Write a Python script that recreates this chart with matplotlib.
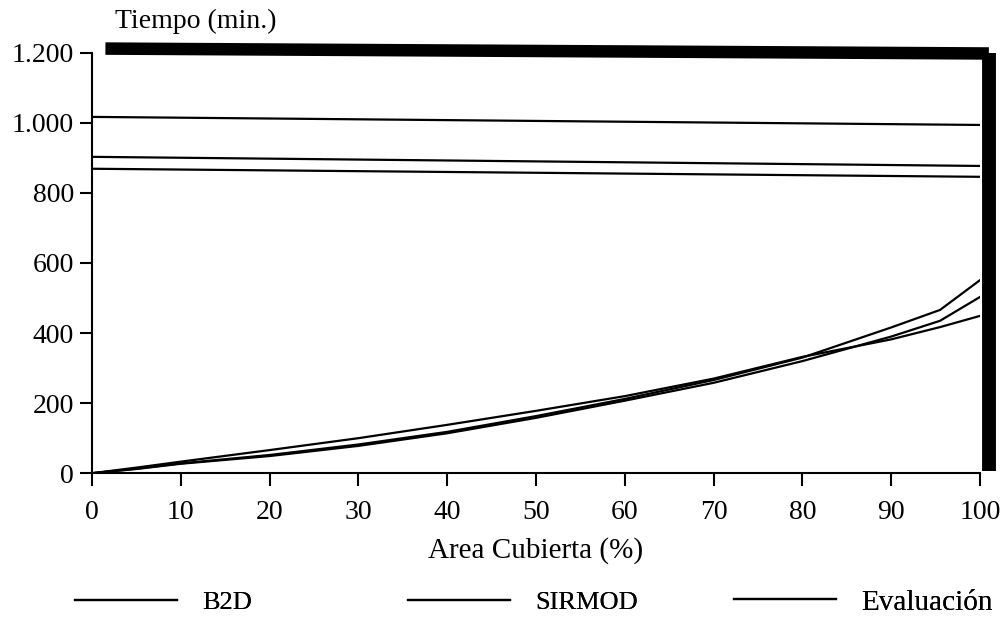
import matplotlib.pyplot as plt
from matplotlib.lines import Line2D
from matplotlib.ticker import FuncFormatter

plt.rcParams['font.family'] = ['Liberation Serif', 'DejaVu Serif']

# area cubierta (%)
area = [0, 5, 10, 20, 30, 40, 50, 60, 70, 80, 90, 95.5, 100]
b2d = [0, 13, 28, 52, 82, 118, 163, 212, 266, 330, 416, 466, 551]
sirmod = [0, 12, 27, 49, 78, 114, 158, 207, 258, 320, 390, 435, 503]
evaluacion = [0, 16, 33, 66, 100, 138, 178, 220, 270, 332, 382, 417, 449]
series_names = ['B2D', 'SIRMOD', 'Evaluación']

# scan artifacts: straight lines across the plot (start value, end value)
stray_x = [0, 100]
stray_1 = [1017, 994]
stray_2 = [903, 877]
stray_3 = [869, 846]
frame_top_x = [1.5, 101]
frame_top_y = [1212, 1198]
frame_right_x = [101, 101]
frame_right_y = [1198, 5]

fig = plt.figure(figsize=(10.01, 6.21), dpi=100)
ax = fig.add_axes([0.092, 0.238, 0.887, 0.677])

ax.plot(area, b2d, color='black', lw=1.6)
ax.plot(area, sirmod, color='black', lw=1.6)
ax.plot(area, evaluacion, color='black', lw=1.6)

for s in (stray_1, stray_2, stray_3):
    ax.plot(stray_x, s, color='black', lw=1.6)
ax.plot(frame_top_x, frame_top_y, color='black', lw=9, clip_on=False, solid_capstyle='butt')
ax.plot(frame_right_x, frame_right_y, color='black', lw=10, clip_on=False, solid_capstyle='butt')

ax.set_xlim(0, 100)
ax.set_ylim(0, 1200)
ax.set_xticks(range(0, 101, 10))
ax.set_yticks(range(0, 1201, 200))
ax.yaxis.set_major_formatter(FuncFormatter(lambda v, p: f'{int(v):,}'.replace(',', '.')))
for side in ('top', 'right'):
    ax.spines[side].set_visible(False)
ax.spines['left'].set_linewidth(1.5)
ax.spines['bottom'].set_linewidth(1.5)
ax.tick_params(direction='out', length=9, width=1.5, labelsize=20)
ax.tick_params(axis='x', pad=10)
ax.tick_params(axis='y', pad=4)

ax.set_xlabel('Area Cubierta (%)', fontsize=21, labelpad=9)
fig.text(0.115, 0.966, 'Tiempo (min.)', fontsize=20, ha='left', va='center')

# legend entries placed one by one, as in the original
legend_x = [0.075, 0.408, 0.733]
legend_fs = [19, 19, 21]
for name, lx, fs in zip(series_names, legend_x, legend_fs):
    h = Line2D([], [], color='black', lw=1.6)
    leg = fig.legend([h], [name], loc='center left', bbox_to_anchor=(lx, 0.03),
                     frameon=False, fontsize=fs, handlelength=102 / (fs * 100 / 72),
                     handletextpad=25 / (fs * 100 / 72), borderpad=0, borderaxespad=0)
    fig.add_artist(leg)

fig.savefig('out.png', dpi=100)
